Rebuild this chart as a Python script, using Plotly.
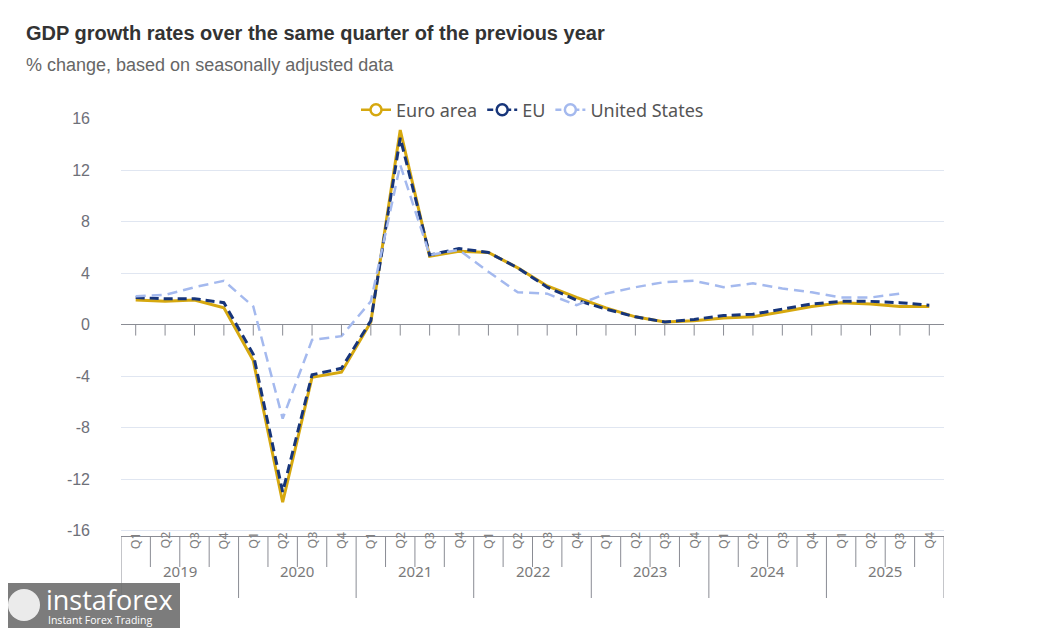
import plotly.graph_objects as go

# ---------------- data ----------------
years = ["2019", "2020", "2021", "2022", "2023", "2024", "2025"]
quarters = ["Q1", "Q2", "Q3", "Q4"]

euro_area = [1.9, 1.8, 1.9, 1.3,
             -2.8, -13.8, -4.1, -3.7,
             0.2, 15.1, 5.3, 5.7,
             5.6, 4.4, 3.0, 2.1,
             1.3, 0.6, 0.2, 0.3,
             0.5, 0.6, 1.0, 1.4,
             1.7, 1.6, 1.4, 1.4]
eu = [2.1, 2.0, 2.0, 1.7,
      -2.3, -13.0, -3.9, -3.4,
      0.3, 14.5, 5.4, 5.9,
      5.6, 4.4, 2.9, 1.9,
      1.2, 0.6, 0.2, 0.4,
      0.7, 0.8, 1.2, 1.6,
      1.8, 1.8, 1.7, 1.5]
united_states = [2.2, 2.3, 2.9, 3.4,
                 1.4, -7.3, -1.2, -0.9,
                 1.8, 12.4, 5.4, 5.8,
                 4.1, 2.5, 2.4, 1.5,
                 2.4, 2.9, 3.3, 3.4,
                 2.9, 3.2, 2.8, 2.5,
                 2.1, 2.1, 2.4, None]

y_ticks = [-16, -12, -8, -4, 0, 4, 8, 12, 16]
y_tick_labels = ["-16", "-12", "-8", "-4", "0", "4", "8", "12", "16"]

# ---------------- layout geometry (page pixels) ----------------
PAGE_W, PAGE_H = 1057, 628
OFF = 8                      # default body margin of the page
FIG_W, FIG_H = PAGE_W - OFF, PAGE_H - OFF
L, R, T, B = 121, 944, 118, 536
PW, PH = R - L, B - T

def px_x(px):
    return (px - L) / PW

def px_y(py):
    return (B - py) / PH

n = len(years) * len(quarters)
xs = list(range(n))

C_EA = "#D6A80F"
C_EU = "#17357A"
C_US = "#A4B9EE"
AXIS = "#8A8C94"
TXT = "#6E7079"

fig = go.Figure()

series = [
    ("Euro area", euro_area, C_EA, "solid", 3),
    ("EU", eu, C_EU, "9px,5px", 3),
    ("United States", united_states, C_US, "10px,6px", 2.5),
]

for name, vals, col, dash, w in series:
    fig.add_trace(go.Scatter(
        x=xs, y=vals, mode="lines", name=name, legendgroup=name,
        showlegend=False, connectgaps=False,
        line=dict(color=col, width=w, dash=dash),
        hovertemplate=name + ": %{y}<extra></extra>",
    ))
for name, vals, col, dash, w in series:
    fig.add_trace(go.Scatter(
        x=[None], y=[None], mode="lines+markers", name=name, legendgroup=name,
        line=dict(color=col, width=2.5, dash="solid" if dash == "solid" else "6px,3px"),
        marker=dict(symbol="circle", size=11, color="white",
                    line=dict(color=col, width=2.5)),
    ))

shapes = []
for i in xs:
    shapes.append(dict(type="line", xref="x", yref="y", ysizemode="pixel", yanchor=0,
                       x0=i, x1=i, y0=0, y1=-11, line=dict(color=AXIS, width=1)))
for i in range(n + 1):
    is_year = (i % len(quarters) == 0)
    shapes.append(dict(type="line", xref="x", yref="paper", ysizemode="pixel", yanchor=0,
                       x0=i - 0.5, x1=i - 0.5, y0=0, y1=-62 if is_year else -31,
                       line=dict(color=AXIS, width=1)))

annotations = []
for i in xs:
    annotations.append(dict(x=i, y=px_y(551), xref="x", yref="paper",
                            text=quarters[i % 4], showarrow=False, textangle=-90,
                            font=dict(family="Noto Sans", size=12.5, color="#808080")))
for k, yr in enumerate(years):
    annotations.append(dict(x=k * 4 + 1.5, y=px_y(583), xref="x", yref="paper",
                            text=yr, showarrow=False,
                            font=dict(family="Noto Sans", size=15, color="#7a7a7a")))

annotations.append(dict(x=px_x(24), y=px_y(33), xref="paper", yref="paper",
                        xanchor="left", yanchor="middle", showarrow=False,
                        text="<b>GDP growth rates over the same quarter of the previous year</b>",
                        font=dict(family="Liberation Sans", size=20, color="#333333")))
annotations.append(dict(x=px_x(24), y=px_y(65), xref="paper", yref="paper",
                        xanchor="left", yanchor="middle", showarrow=False,
                        text="% change, based on seasonally adjusted data",
                        font=dict(family="Liberation Sans", size=18, color="#666666")))

# watermark box
shapes.append(dict(type="rect", xref="paper", yref="paper",
                   x0=px_x(0), x1=px_x(180), y0=px_y(583), y1=px_y(628),
                   fillcolor="rgba(110,110,110,0.9)", line=dict(width=0), layer="above"))
shapes.append(dict(type="circle", xref="paper", yref="paper",
                   x0=px_x(8), x1=px_x(40), y0=px_y(589), y1=px_y(621),
                   fillcolor="rgba(255,255,255,0.85)", line=dict(width=0), layer="above"))
annotations.append(dict(x=px_x(44), y=px_y(599), xref="paper", yref="paper",
                        xanchor="left", yanchor="middle", showarrow=False,
                        text="instaforex",
                        font=dict(family="Open Sans", size=27, color="white")))
annotations.append(dict(x=px_x(46), y=px_y(620), xref="paper", yref="paper",
                        xanchor="left", yanchor="middle", showarrow=False,
                        text="Instant Forex Trading",
                        font=dict(family="Open Sans", size=10.5, color="white")))

fig.update_layout(
    width=FIG_W, height=FIG_H,
    margin=dict(l=L - OFF, r=PAGE_W - R, t=T - OFF, b=PAGE_H - B, pad=0, autoexpand=False),
    paper_bgcolor="white", plot_bgcolor="white",
    showlegend=True,
    legend=dict(orientation="h", x=0.5, xanchor="center", y=px_y(110), yanchor="middle",
                font=dict(family="Noto Sans", size=18, color="#555555"),
                itemwidth=30, bgcolor="rgba(0,0,0,0)", traceorder="normal"),
    xaxis=dict(range=[-0.5, n - 0.5], showgrid=False, zeroline=False,
               showticklabels=False, ticks="", showline=True, linecolor=AXIS, linewidth=1,
               fixedrange=True),
    yaxis=dict(range=[-16.42, 16.04], tickvals=y_ticks, ticktext=y_tick_labels,
               showgrid=True, gridcolor="#E0E6F1", gridwidth=1, zeroline=True,
               zerolinecolor=AXIS, zerolinewidth=1, showline=False, ticks="",
               ticklabelstandoff=30,
               tickfont=dict(family="Liberation Sans", size=16, color=TXT),
               fixedrange=True),
    shapes=shapes,
    annotations=annotations,
)

fig.write_html("out.html")
